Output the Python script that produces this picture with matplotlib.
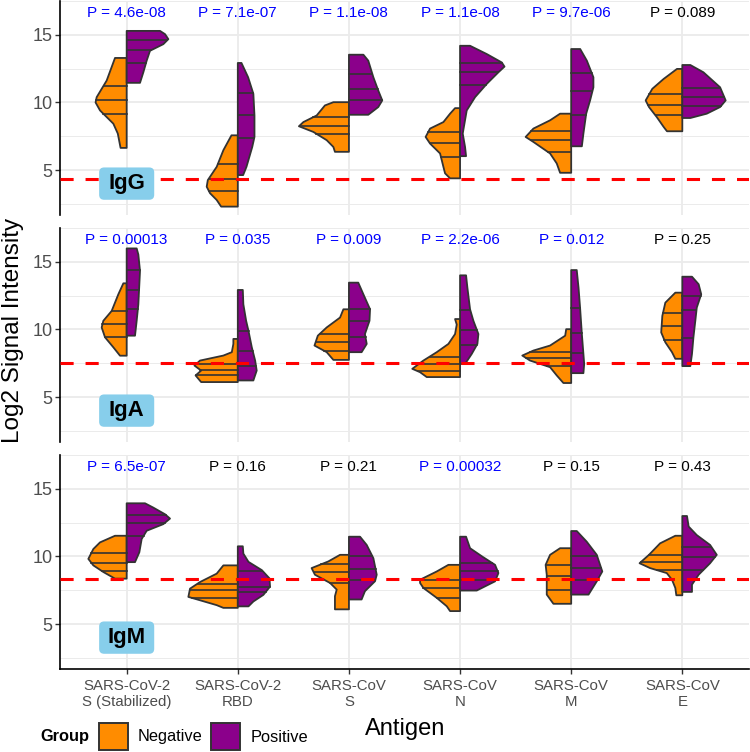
import matplotlib
matplotlib.use("Agg")
import matplotlib.pyplot as plt
from matplotlib.patches import FancyBboxPatch, Rectangle
import numpy as np

plt.rcParams["font.family"] = ["Liberation Sans", "DejaVu Sans"]

ANTIGENS = ["SARS-CoV-2\nS (Stabilized)", "SARS-CoV-2\nRBD", "SARS-CoV\nS",
            "SARS-CoV\nN", "SARS-CoV\nM", "SARS-CoV\nE"]
ISOTYPES = ["IgG", "IgA", "IgM"]
CUTOFFS = [4.32, 7.5, 8.3]

P_IGG = ["4.6e-08", "7.1e-07", "1.1e-08", "1.1e-08", "9.7e-06", "0.089"]
P_IGA = ["0.00013", "0.035", "0.009", "2.2e-06", "0.012", "0.25"]
P_IGM = ["6.5e-07", "0.16", "0.21", "0.00032", "0.15", "0.43"]

# violin profiles: y levels, half-width (category units), quartiles
IGG_NEG_Y = [[6.64, 7.70, 8.43, 9.41, 10.0, 10.39, 11.62, 13.29],
             [2.30, 2.79, 3.29, 3.77, 4.26, 5.24, 6.47, 7.57],
             [6.35, 6.71, 7.21, 7.82, 8.24, 8.55, 9.04, 9.78, 10.02],
             [4.39, 4.76, 5.24, 5.74, 6.23, 6.96, 7.45, 8.07, 8.55, 9.17, 9.58],
             [4.80, 5.49, 6.23, 7.08, 7.45, 8.07, 8.68, 9.17],
             [7.87, 8.19, 8.92, 9.66, 10.15, 11.01, 11.74, 12.48]]
IGG_NEG_W = [[0.055, 0.08, 0.12, 0.24, 0.28, 0.27, 0.18, 0.105],
             [0.15, 0.19, 0.25, 0.28, 0.27, 0.19, 0.13, 0.057],
             [0.126, 0.14, 0.2, 0.32, 0.45, 0.41, 0.29, 0.216, 0.14],
             [0.09, 0.135, 0.15, 0.165, 0.18, 0.27, 0.31, 0.27, 0.15, 0.09, 0.045],
             [0.1, 0.13, 0.19, 0.34, 0.41, 0.34, 0.19, 0.1],
             [0.138, 0.168, 0.23, 0.30, 0.33, 0.27, 0.168, 0.048]]
IGG_NEG_Q = [[9.17, 10.17, 11.25], [3.46, 4.34, 5.44], [7.70, 8.29, 8.92],
             [5.98, 7.01, 7.82], [6.35, 7.21, 7.87], [9.04, 9.83, 10.64]]
IGG_POS_Y = [[11.45, 12.23, 13.09, 13.82, 14.31, 14.68, 15.05, 15.29],
             [4.63, 5.24, 6.71, 7.45, 9.04, 10.64, 11.86, 12.92],
             [9.09, 9.66, 10.15, 10.88, 11.86, 13.09, 13.53],
             [6.03, 6.71, 7.70, 9.41, 10.39, 11.37, 12.23, 12.65, 12.96, 13.58, 14.19],
             [6.76, 7.70, 9.17, 10.15, 11.12, 11.86, 13.09, 13.95],
             [8.85, 9.17, 9.66, 10.15, 11.12, 12.23, 12.77]]
IGG_POS_W = [[0.12, 0.15, 0.18, 0.21, 0.33, 0.375, 0.345, 0.30],
             [0.048, 0.078, 0.13, 0.15, 0.15, 0.14, 0.093, 0.033],
             [0.174, 0.264, 0.30, 0.264, 0.22, 0.174, 0.13],
             [0.054, 0.045, 0.024, 0.06, 0.135, 0.24, 0.345, 0.40, 0.375, 0.24, 0.09],
             [0.096, 0.11, 0.135, 0.17, 0.2, 0.2, 0.141, 0.081],
             [0.072, 0.22, 0.34, 0.39, 0.34, 0.19, 0.072]]
IGG_POS_Q = [[12.92, 13.87, 14.61], [7.40, 9.04, 10.71], [10.15, 10.98, 12.11],
             [11.32, 12.23, 12.92], [9.09, 10.83, 12.16], [9.71, 10.39, 11.08]]

IGA_NEG_Y = [[8.06, 8.68, 9.42, 10.15, 10.64, 11.37, 12.60, 13.41],
             [6.11, 6.60, 6.96, 7.33, 7.70, 8.07, 8.32, 8.93, 9.30],
             [7.75, 8.32, 8.81, 9.54, 10.15, 10.88, 11.49],
             [6.48, 6.84, 7.09, 7.70, 8.32, 8.93, 9.66, 10.36, 10.77],
             [6.04, 6.60, 7.21, 7.70, 8.07, 8.44, 8.81, 9.54, 10.02],
             [7.83, 8.32, 9.05, 9.78, 11.0, 11.98, 12.72]]
IGA_NEG_W = [[0.06, 0.12, 0.195, 0.225, 0.21, 0.135, 0.075, 0.03],
             [0.33, 0.38, 0.33, 0.39, 0.34, 0.13, 0.054, 0.04, 0.04],
             [0.14, 0.2, 0.31, 0.28, 0.2, 0.08, 0.05],
             [0.30, 0.36, 0.43, 0.33, 0.21, 0.105, 0.045, 0.03, 0.045],
             [0.07, 0.13, 0.19, 0.37, 0.44, 0.34, 0.19, 0.054, 0.045],
             [0.063, 0.093, 0.153, 0.19, 0.18, 0.153, 0.063]]
IGA_NEG_Q = [[9.46, 10.37, 11.37], [6.60, 7.01, 7.45], [8.44, 9.05, 9.66],
             [6.91, 7.41, 8.0], [7.29, 7.88, 8.32], [9.24, 10.22, 11.25]]
IGA_POS_Y = [[9.54, 10.64, 11.86, 14.32, 15.54, 15.99],
             [6.23, 6.96, 7.70, 8.68, 9.90, 10.64, 11.86, 12.92],
             [8.32, 8.93, 9.66, 10.64, 11.49, 12.60, 13.46],
             [7.45, 8.19, 8.93, 9.66, 10.64, 11.49, 13.09, 14.0],
             [6.77, 7.45, 8.19, 9.66, 11.61, 13.09, 14.39],
             [7.29, 8.19, 9.42, 10.64, 11.61, 12.60, 13.34, 13.90]]
IGA_POS_W = [[0.075, 0.09, 0.105, 0.12, 0.105, 0.09],
             [0.14, 0.17, 0.156, 0.126, 0.096, 0.075, 0.05, 0.045],
             [0.114, 0.16, 0.144, 0.185, 0.19, 0.13, 0.084],
             [0.045, 0.105, 0.156, 0.165, 0.12, 0.09, 0.066, 0.054],
             [0.11, 0.117, 0.11, 0.096, 0.08, 0.066, 0.05],
             [0.072, 0.087, 0.10, 0.117, 0.13, 0.17, 0.147, 0.087]]
IGA_POS_Q = [[11.52, 12.94, 14.41], [7.28, 8.41, 9.86], [9.42, 10.64, 11.52],
             [8.88, 9.95, 11.45], [8.24, 9.71, 11.61], [9.37, 11.42, 12.48]]

IGM_NEG_Y = [[8.36, 8.85, 9.34, 9.82, 10.55, 11.04, 11.53],
             [6.20, 6.40, 6.76, 7.01, 7.62, 8.11, 8.73, 9.34],
             [6.09, 6.45, 7.06, 7.55, 8.04, 8.65, 9.14, 9.63, 10.12],
             [5.96, 6.32, 6.94, 7.67, 8.04, 8.28, 8.89, 9.38],
             [6.50, 7.18, 7.92, 8.65, 9.38, 10.12, 10.61],
             [7.13, 7.67, 8.28, 8.77, 9.14, 9.50, 10.12, 10.97, 11.53]]
IGM_NEG_W = [[0.105, 0.21, 0.30, 0.345, 0.30, 0.24, 0.105],
             [0.13, 0.19, 0.34, 0.445, 0.43, 0.34, 0.19, 0.13],
             [0.126, 0.126, 0.126, 0.11, 0.17, 0.306, 0.336, 0.186, 0.08],
             [0.09, 0.12, 0.21, 0.33, 0.36, 0.36, 0.21, 0.105],
             [0.16, 0.22, 0.22, 0.22, 0.23, 0.19, 0.1],
             [0.054, 0.063, 0.093, 0.14, 0.29, 0.385, 0.30, 0.2, 0.063]]
IGM_NEG_Q = [[8.90, 9.53, 10.24], [6.94, 7.50, 7.99], [8.02, 8.84, 9.43],
             [6.94, 7.67, 8.23], [7.50, 8.55, 9.38], [8.99, 9.58, 10.12]]
IGM_POS_Y = [[9.58, 10.31, 11.29, 11.90, 12.39, 12.80, 13.12, 13.61, 13.93],
             [6.31, 6.67, 7.16, 7.77, 8.38, 8.99, 9.60, 10.21, 10.75],
             [6.82, 7.43, 8.17, 8.65, 9.87, 10.85, 11.46],
             [7.48, 8.16, 8.77, 9.38, 9.99, 10.61, 11.46],
             [7.18, 8.16, 8.89, 10.12, 11.09, 11.88],
             [7.38, 7.92, 8.65, 9.50, 10.12, 10.85, 11.58, 12.21, 12.99]]
IGM_POS_W = [[0.075, 0.114, 0.135, 0.18, 0.33, 0.39, 0.345, 0.24, 0.165],
             [0.096, 0.14, 0.23, 0.29, 0.285, 0.216, 0.096, 0.05, 0.045],
             [0.114, 0.144, 0.235, 0.25, 0.22, 0.16, 0.1],
             [0.15, 0.315, 0.345, 0.315, 0.2, 0.09, 0.054],
             [0.156, 0.23, 0.28, 0.23, 0.14, 0.05],
             [0.087, 0.087, 0.147, 0.25, 0.31, 0.25, 0.13, 0.057, 0.042]]
IGM_POS_Q = [[11.53, 12.51, 13.07], [7.36, 7.77, 8.94], [8.24, 9.09, 10.07],
             [8.28, 8.89, 9.55], [8.28, 9.14, 10.04], [8.97, 9.95, 10.70]]

NEG_COLOR = "#FF8C00"
POS_COLOR = "#8B008B"
EDGE = "#333333"
GRID = "#EBEBEB"

panels = [
    (P_IGG, IGG_NEG_Y, IGG_NEG_W, IGG_NEG_Q, IGG_POS_Y, IGG_POS_W, IGG_POS_Q),
    (P_IGA, IGA_NEG_Y, IGA_NEG_W, IGA_NEG_Q, IGA_POS_Y, IGA_POS_W, IGA_POS_Q),
    (P_IGM, IGM_NEG_Y, IGM_NEG_W, IGM_NEG_Q, IGM_POS_Y, IGM_POS_W, IGM_POS_Q),
]

W, H = 750, 752
fig = plt.figure(figsize=(W / 100, H / 100), dpi=100)


def half_violin(ax, x0, ys, ws, qs, side, color):
    ys = np.asarray(ys)
    ws = np.asarray(ws)
    px = np.concatenate([[x0], x0 + side * ws, [x0]])
    py = np.concatenate([[ys[0]], ys, [ys[-1]]])
    ax.fill(px, py, facecolor=color, edgecolor=EDGE, lw=1.3, zorder=3, joinstyle="round")
    for q in qs:
        wq = np.interp(q, ys, ws)
        ax.plot([x0, x0 + side * wq], [q, q], color=EDGE, lw=1.2, zorder=4)


tops = [1, 228, 455]
ph = 214
x = np.arange(1, len(ANTIGENS) + 1)

for i, (pv, ny, nw, nq, qy, qw, qq) in enumerate(panels):
    ax = fig.add_axes([60 / W, 1 - (tops[i] + ph) / H, 689 / W, ph / H])
    ax.set_xlim(0.4, 6.6)
    ax.set_ylim(1.68, 17.42)
    for s in ["top", "right", "bottom"]:
        ax.spines[s].set_visible(False)
    ax.spines["left"].set_linewidth(1.2)
    ax.spines["left"].set_color("black")

    ax.set_yticks([5, 10, 15])
    ax.set_yticks([2.5, 7.5, 12.5, 17.5], minor=True)
    ax.set_xticks(x)
    ax.grid(True, which="major", color=GRID, lw=1.3, zorder=0)
    ax.grid(True, which="minor", axis="y", color=GRID, lw=0.7, zorder=0)
    ax.set_axisbelow(True)
    ax.tick_params(axis="y", which="major", labelsize=13, labelcolor="#4D4D4D",
                   color="#333333", length=3.5, width=1, pad=2)
    ax.tick_params(axis="y", which="minor", length=0)

    for j in range(len(ANTIGENS)):
        half_violin(ax, x[j], ny[j], nw[j], nq[j], -1, NEG_COLOR)
        half_violin(ax, x[j], qy[j], qw[j], qq[j], 1, POS_COLOR)
        col = "#0000FF" if float(pv[j]) < 0.05 else "black"
        ax.text(x[j], 16.6, "P = " + pv[j], ha="center", va="center",
                fontsize=11, color=col, zorder=6)

    ax.axhline(CUTOFFS[i], color="#FF0000", lw=2.2, ls=(0, (4.3, 3.9)), zorder=5)

    # isotype tag
    bw, bh = 55 / 111, 32.5 / 13.6
    ax.add_patch(FancyBboxPatch((1 - bw / 2, 4 - bh / 2), bw, bh,
                                boxstyle="round,pad=0,rounding_size=0.045",
                                mutation_aspect=111 / 13.6,
                                fc="#87CEEB", ec="none", zorder=7))
    ax.text(1, 4.0, ISOTYPES[i], ha="center", va="center", fontsize=16,
            fontweight="bold", zorder=8)

    if i == 2:
        ax.spines["bottom"].set_visible(True)
        ax.spines["bottom"].set_linewidth(1.2)
        ax.spines["bottom"].set_color("black")
        ax.set_xticklabels(ANTIGENS, fontsize=10.8, color="#4D4D4D", linespacing=1.1)
        ax.tick_params(axis="x", color="#333333", length=3.5, width=1, pad=4)
    else:
        ax.tick_params(axis="x", length=0, labelbottom=False)

fig.text(13 / W, 1 - 330 / H, "Log2 Signal Intensity", rotation=90,
         ha="center", va="center", fontsize=17.5)
fig.text(405 / W, 1 - 729 / H, "Antigen", ha="center", va="center", fontsize=17)

# legend
fig.text(40 / W, 1 - 737 / H, "Group", ha="left", va="center", fontsize=11.8,
         fontweight="bold")
for x0, col, lab, tx in [(99.5, NEG_COLOR, "Negative", 138),
                         (211.5, POS_COLOR, "Positive", 250.5)]:
    fig.add_artist(Rectangle((x0 / W, 1 - 750 / H), 28.5 / W, 27.5 / H,
                             transform=fig.transFigure, fc=col, ec=EDGE, lw=1.4))
    fig.text(tx / W, 1 - 737 / H, lab, ha="left", va="center", fontsize=11.8)

fig.savefig("out.png", dpi=100)
